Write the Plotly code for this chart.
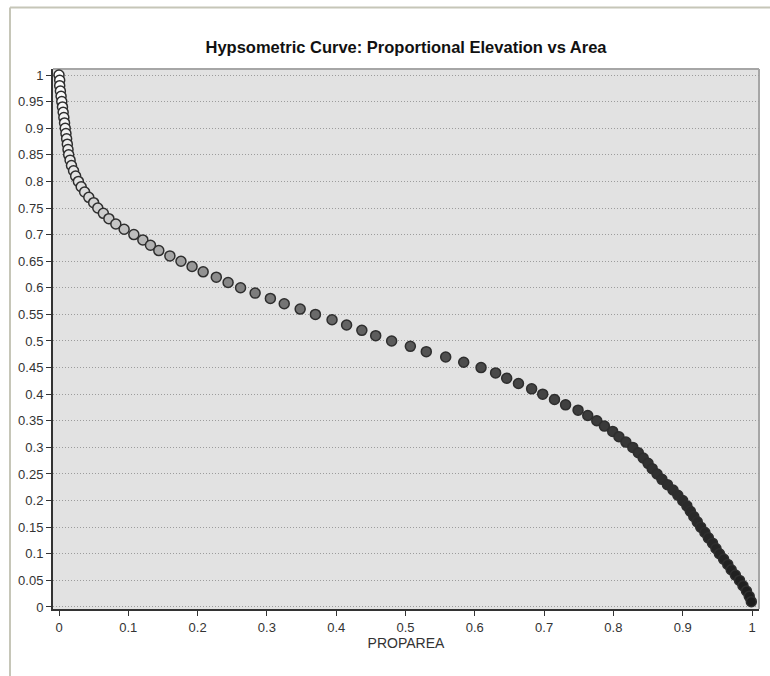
import plotly.graph_objects as go

# Proportional elevation (relative height) and proportional area above it
prop_elev = [
    1.00, 0.99, 0.98, 0.97, 0.96, 0.95, 0.94, 0.93, 0.92, 0.91,
    0.90, 0.89, 0.88, 0.87, 0.86, 0.85, 0.84, 0.83, 0.82, 0.81,
    0.80, 0.79, 0.78, 0.77, 0.76, 0.75, 0.74, 0.73, 0.72, 0.71,
    0.70, 0.69, 0.68, 0.67, 0.66, 0.65, 0.64, 0.63, 0.62, 0.61,
    0.60, 0.59, 0.58, 0.57, 0.56, 0.55, 0.54, 0.53, 0.52, 0.51,
    0.50, 0.49, 0.48, 0.47, 0.46, 0.45, 0.44, 0.43, 0.42, 0.41,
    0.40, 0.39, 0.38, 0.37, 0.36, 0.35, 0.34, 0.33, 0.32, 0.31,
    0.30, 0.29, 0.28, 0.27, 0.26, 0.25, 0.24, 0.23, 0.22, 0.21,
    0.20, 0.19, 0.18, 0.17, 0.16, 0.15, 0.14, 0.13, 0.12, 0.11,
    0.10, 0.09, 0.08, 0.07, 0.06, 0.05, 0.04, 0.03, 0.02, 0.01,
]
prop_area = [
    0.000, 0.001, 0.001, 0.002, 0.003, 0.004, 0.005, 0.006, 0.007, 0.008,
    0.009, 0.010, 0.011, 0.012, 0.013, 0.014, 0.016, 0.018, 0.021, 0.024,
    0.028, 0.032, 0.037, 0.043, 0.050, 0.056, 0.064, 0.072, 0.082, 0.094,
    0.108, 0.121, 0.132, 0.144, 0.160, 0.176, 0.192, 0.208, 0.227, 0.244,
    0.262, 0.283, 0.305, 0.325, 0.348, 0.370, 0.394, 0.415, 0.437, 0.457,
    0.480, 0.507, 0.530, 0.558, 0.584, 0.609, 0.630, 0.646, 0.663, 0.682,
    0.698, 0.715, 0.731, 0.749, 0.763, 0.776, 0.787, 0.799, 0.808, 0.818,
    0.828, 0.836, 0.843, 0.850, 0.856, 0.863, 0.870, 0.878, 0.886, 0.893,
    0.900, 0.906, 0.911, 0.916, 0.921, 0.926, 0.932, 0.937, 0.943, 0.948,
    0.953, 0.959, 0.965, 0.970, 0.976, 0.982, 0.987, 0.992, 0.996, 0.999,
]

y_ticks = [0, 0.05, 0.1, 0.15, 0.2, 0.25, 0.3, 0.35, 0.4, 0.45, 0.5,
           0.55, 0.6, 0.65, 0.7, 0.75, 0.8, 0.85, 0.9, 0.95, 1]
x_ticks = [0, 0.1, 0.2, 0.3, 0.4, 0.5, 0.6, 0.7, 0.8, 0.9, 1]

FONT = "Liberation Sans, Arial, sans-serif"

# Fill shades from white at the summit to near-black at the base
shade_scale = [
    [0.0, "#1c1c1c"],
    [0.30, "#343434"],
    [0.45, "#4a4a4a"],
    [0.55, "#6a6a6a"],
    [0.62, "#8c8c8c"],
    [0.70, "#bdbdbd"],
    [0.80, "#e4e4e4"],
    [1.0, "#ffffff"],
]

fig = go.Figure()
fig.add_trace(go.Scatter(
    x=prop_area,
    y=prop_elev,
    mode="markers",
    marker=dict(
        size=10,
        color=prop_elev,
        colorscale=shade_scale,
        cmin=0,
        cmax=1,
        showscale=False,
        line=dict(color="#2e2e2e", width=1.5),
    ),
    hoverinfo="x+y",
    showlegend=False,
))

W, H = 770, 676
ml, mr, mt, mb = 53, 11, 69, 67
pw, ph = W - ml - mr, H - mt - mb


def px_x(px):
    return (px - ml) / pw


def px_y(py):
    return (H - mb - py) / ph


fig.update_layout(
    width=W,
    height=H,
    margin=dict(l=ml, r=mr, t=mt, b=mb, pad=0),
    paper_bgcolor="#ffffff",
    plot_bgcolor="#e2e2e2",
    font=dict(family=FONT, size=13, color="#333333"),
    title=dict(
        text="<b>Hypsometric Curve: Proportional Elevation vs Area</b>",
        x=0.5,
        xref="paper",
        xanchor="center",
        y=1 - 47 / H,
        yref="container",
        yanchor="middle",
        font=dict(family=FONT, size=16.5, color="#111111"),
    ),
    xaxis=dict(
        range=[-0.00866, 1.0101],
        tickvals=x_ticks,
        ticktext=[("%g" % v) for v in x_ticks],
        ticks="outside",
        ticklen=5,
        tickwidth=1,
        tickcolor="#333333",
        tickfont=dict(size=13),
        showgrid=False,
        zeroline=False,
        showline=True,
        linecolor="#333333",
        linewidth=2,
        title=dict(text="PROPAREA", standoff=2,
                   font=dict(family=FONT, size=14, color="#333333")),
        fixedrange=True,
    ),
    yaxis=dict(
        range=[-0.0038, 1.0113],
        tickvals=y_ticks,
        ticktext=[("%g" % v) for v in y_ticks],
        ticks="outside",
        ticklen=5,
        tickwidth=1,
        tickcolor="#333333",
        tickfont=dict(size=13),
        showgrid=True,
        gridcolor="#9c9c9c",
        griddash="1px,2px",
        gridwidth=1,
        zeroline=False,
        showline=True,
        linecolor="#333333",
        linewidth=2,
        fixedrange=True,
    ),
    shapes=[
        # light border on the top and right of the plot area
        dict(type="line", xref="paper", yref="paper", x0=0, x1=1, y0=1, y1=1,
             line=dict(color="#a6a6a6", width=2), layer="below"),
        dict(type="line", xref="paper", yref="paper", x0=1, x1=1, y0=0, y1=1,
             line=dict(color="#a6a6a6", width=2), layer="below"),
        # outer frame of the chart panel
        dict(type="line", xref="paper", yref="paper",
             x0=px_x(10), x1=px_x(772), y0=px_y(7.5), y1=px_y(7.5),
             line=dict(color="#c6c6b8", width=2), layer="above"),
        dict(type="line", xref="paper", yref="paper",
             x0=px_x(10), x1=px_x(10), y0=px_y(7.5), y1=px_y(678),
             line=dict(color="#c6c6b8", width=2), layer="above"),
    ],
)

fig.write_html("out.html")
